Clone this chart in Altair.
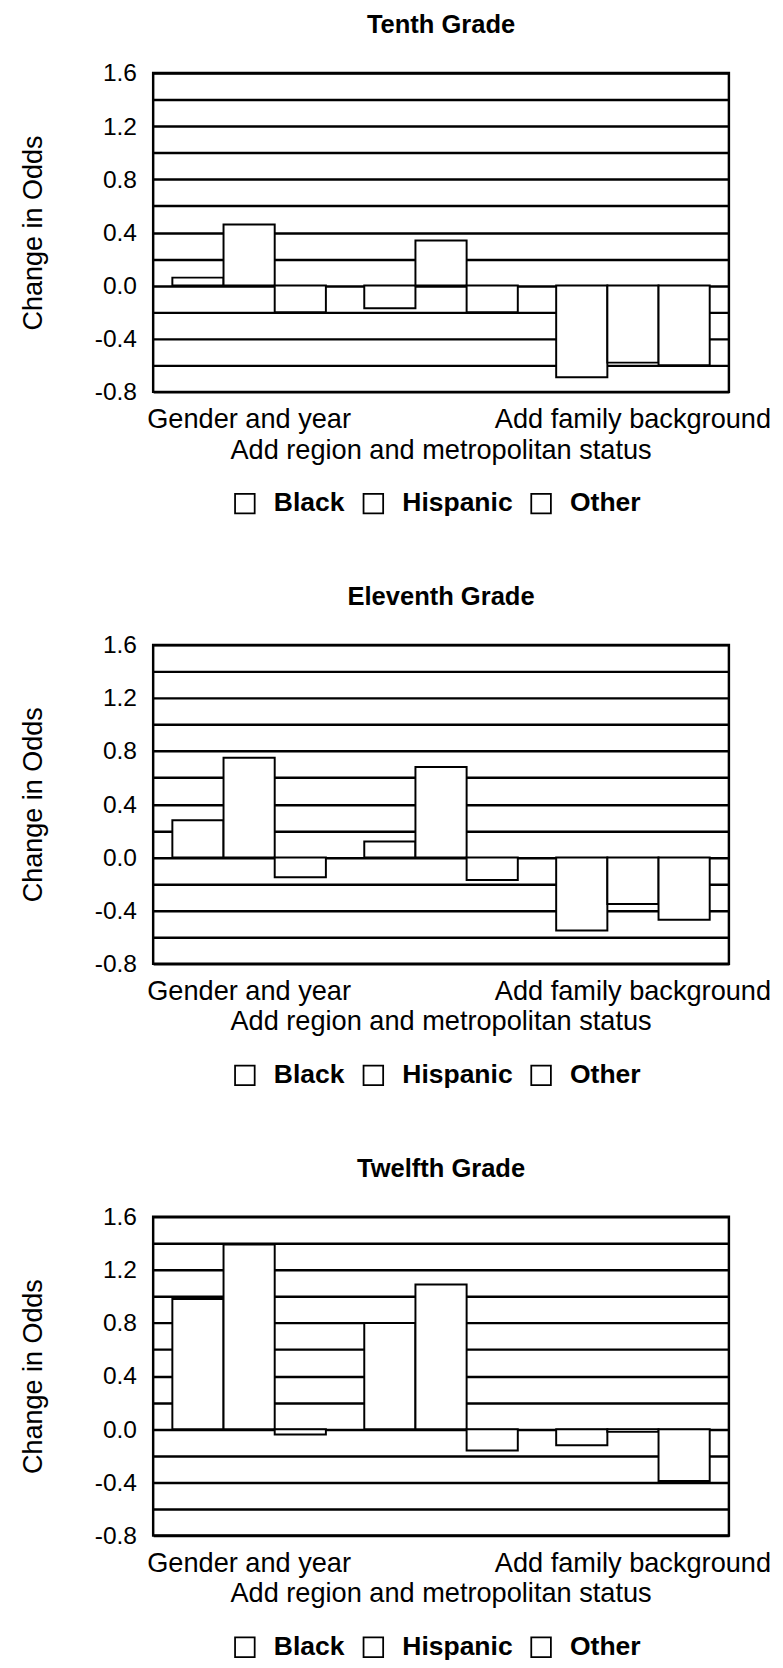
import altair as alt
import pandas as pd

groups = ["Gender and year", "Add region and metropolitan status", "Add family background"]
series = ["Black", "Hispanic", "Other"]
titles = ["Tenth Grade", "Eleventh Grade", "Twelfth Grade"]

# values ordered group by group, series within group
tenth = [0.06, 0.46, -0.20, -0.17, 0.34, -0.20, -0.69, -0.58, -0.60]
eleventh = [0.28, 0.75, -0.15, 0.12, 0.68, -0.17, -0.55, -0.35, -0.47]
twelfth = [0.98, 1.39, -0.04, 0.80, 1.09, -0.16, -0.12, -0.02, -0.39]

label_rows = [1, 2, 1]
y_grid = [-0.8, -0.6, -0.4, -0.2, 0.0, 0.2, 0.4, 0.6, 0.8, 1.0, 1.2, 1.4, 1.6]

FONT = "Liberation Sans"
W, H = 587, 325

labels_df = pd.DataFrame({"group": groups, "row": label_rows})


def panel(vals, title):
    rows = []
    for gi, g in enumerate(groups):
        for si, s in enumerate(series):
            rows.append({"group": g, "series": s, "value": vals[gi * 3 + si]})
    df = pd.DataFrame(rows)
    xscale = alt.Scale(domain=groups, paddingInner=0.2, paddingOuter=0.1)
    bars = alt.Chart(df).mark_bar(stroke="black", strokeWidth=2, strokeJoin="miter").encode(
        x=alt.X("group:N", sort=groups, scale=xscale, axis=None),
        xOffset=alt.XOffset("series:N", sort=series, scale=alt.Scale(domain=series, paddingInner=0, paddingOuter=0)),
        y=alt.Y(
            "value:Q",
            scale=alt.Scale(domain=[-0.8, 1.6], nice=False, zero=False),
            axis=alt.Axis(
                values=y_grid,
                title="Change in Odds",
                titleFont=FONT,
                titleFontSize=27.5,
                titleFontWeight="normal",
                titleColor="black",
                titlePadding=48,
                labelFont=FONT,
                labelFontSize=25,
                labelColor="black",
                labelPadding=17,
                labelExpr="round(datum.value*10) % 4 == 0 ? replace(format(datum.value, '.1f'), '\u2212', '-') : ''",
                ticks=False,
                domain=False,
                grid=True,
                gridColor="black",
                gridWidth=2.5,
                gridOpacity=1,
            ),
        ),
        fill=alt.Fill(
            "series:N",
            sort=series,
            scale=alt.Scale(domain=series, range=["white", "white", "white"]),
            legend=alt.Legend(
                title=None,
                orient="none",
                direction="horizontal",
                legendX=80,
                legendY=425,
                symbolType="square",
                symbolSize=400,
                symbolStrokeColor="black",
                symbolFillColor="white",
                symbolStrokeWidth=1.8,
                labelFont=FONT,
                labelFontSize=27,
                labelFontWeight="bold",
                labelColor="black",
                labelOffset=16,
                columnPadding=14,
                labelLimit=300,
            ),
        ),
    )
    t1 = alt.Chart(labels_df).transform_filter("datum.row == 1").mark_text(
        font=FONT, fontSize=27.7, color="black", baseline="alphabetic", align="center"
    ).encode(
        x=alt.X("group:N", sort=groups, scale=xscale, axis=None),
        y=alt.value(H + 37),
        text="group:N",
    )
    t2 = alt.Chart(labels_df).transform_filter("datum.row == 2").mark_text(
        font=FONT, fontSize=27.7, color="black", baseline="alphabetic", align="center"
    ).encode(
        x=alt.X("group:N", sort=groups, scale=xscale, axis=None),
        y=alt.value(H + 68),
        text="group:N",
    )
    return alt.layer(bars, t1, t2).properties(
        width=W,
        height=H,
        title=alt.TitleParams(
            text=title, font=FONT, fontSize=26, fontWeight="bold", color="black",
            anchor="middle", offset=24,
        ),
    )


chart = alt.vconcat(
    panel(tenth, titles[0]),
    panel(eleventh, titles[1]),
    panel(twelfth, titles[2]),
    spacing=64,
).resolve_scale(fill="independent").resolve_legend(fill="independent").configure_view(
    stroke="black", strokeWidth=2.5
).properties(background="white", padding={"left": 10, "top": -14, "right": 2, "bottom": 2})

chart.save("out.html", embed_options={"renderer": "svg", "actions": False})
